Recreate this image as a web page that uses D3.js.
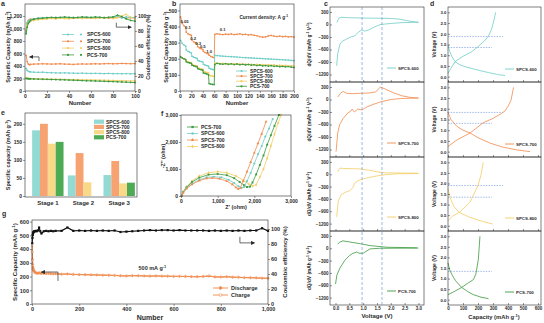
<!DOCTYPE html>
<html>
<head>
<meta charset="utf-8">
<script src="https://cdn.jsdelivr.net/npm/d3@7"></script>
<style>
  body { margin: 0; background: #fff; }
  svg { font-family: "Liberation Sans", Arial, sans-serif; font-weight: bold; }
</style>
</head>
<body>
<svg id="fig" width="544" height="323"></svg>
<script>
// ---- colours ----
const INK = "#2b2b2b";
const cyanC = "#6ecdc6", orangeC = "#f08a4b", yellowC = "#f2cd62", greenC = "#3b9a3e";
const barColors = ["#93d9d4", "#f6a371", "#f8d98a", "#4daa55"];

// ---- (a) cycling at low rate ----
const aCycles = [1,2,3,4,5,8,12,16,20,24,28,32,36,40,44,48,52,56,60,64,68,72,76,80,84,88,92,96,100];
const aCap600 = [360,330,315,310,305,300,298,300,295,292,290,288,290,287,285,283,285,282,280,282,280,278,280,277,278,276,278,275,277];
const aCap700 = [570,470,430,420,425,430,432,435,433,430,432,435,430,428,425,430,432,430,433,435,432,436,438,435,437,440,438,436,438];
const aCap800 = [215,205,200,198,197,195,193,192,190,189,188,186,185,183,182,180,179,178,176,175,174,172,170,168,166,165,163,162,160];
const aCapP700 = [200,198,196,195,194,192,190,188,186,184,182,180,178,175,172,170,167,164,162,160,157,155,152,150,147,144,141,138,135];
const aCE600 = [78,90,93,94,95,96,97,97,97.5,97,98,97.5,98,97.5,98,97,98,98.5,97.5,98,98,97.5,98,98.5,99,97,98.5,98,97.5];
const aCE700 = [80,91,94,95,95.5,96,96.5,97,97,97.5,97,97.5,97,97.5,97,97.5,98,97.5,97,97.5,98,97.5,97,97.5,98,98.5,97,97.5,98];
const aCE800 = [83,87,90,92,93,94,95,95.5,96,96.5,96,97,96.5,96,97,97.5,96.5,97,97.5,96.5,97,97.5,98,96.5,97.5,100,102,98,96];
const aCEP700 = [76,85,90,92,94,95.5,96.5,97,97.5,98,97.5,98,98.5,98,97.5,98,98.5,98,98,98.5,98,97.5,98,98.5,101,99,96,94,93];

// ---- (b) rate test ----
const bCycles = [1,4,7,10,11,14,17,20,21,24,27,30,31,34,37,40,41,44,47,50,51,54,57,60,
  61,65,70,75,80,85,90,95,100,105,110,115,120,125,130,135,140,145,150,155,160,165,170,175,180,185,190,195,200];
const b600 = [315,295,285,278,255,246,241,236,215,210,206,203,190,186,183,180,166,161,158,155,142,137,134,131,
  222,220,218,216,215,214,213,212,211,209,208,207,206,205,204,203,202,201,200,199,198,197,196,195,194,193,192,190,188];
const b700 = [460,420,405,395,365,355,350,346,316,305,300,296,276,268,263,258,246,239,234,230,222,215,210,206,
  352,355,352,350,353,351,354,350,352,355,350,352,348,350,346,343,338,334,336,342,345,340,338,341,337,339,336,338,335];
const b800 = [215,205,200,196,186,181,178,176,165,160,158,156,145,140,138,135,123,118,115,112,98,94,92,90,
  174,172,170,171,168,170,167,169,166,168,165,167,164,166,163,165,162,164,161,163,160,162,158,160,157,159,155,157,154];
const bP700 = [212,205,200,195,181,177,174,172,160,156,153,150,139,135,132,130,112,109,106,100,46,43,41,40,
  165,172,168,166,170,165,169,164,168,163,166,162,165,160,163,158,161,156,158,155,157,153,155,151,153,150,152,148,146];
// rate labels: [text, cycle, capacity]
const bRates = [["0.05",8,425],["0.1",14,382],["0.2",23,318],["0.3",32,288],["0.5",40,268],["1.0",51,238],["0.1",75,372]];

// ---- (c) dQ/dV profiles, [voltage, dQ/dV] ----
const c600Charge = [[0.05,50],[0.12,150],[0.2,175],[0.4,165],[0.7,160],[1.0,155],[1.3,152],[1.6,150],[2.0,145],[2.3,130],[2.6,90],[2.9,60],[3.0,55]];
const c600Dis = [[0.04,-990],[0.08,-700],[0.16,-470],[0.25,-400],[0.4,-350],[0.55,-300],[0.7,-270],[0.8,-200],[0.9,-150],[0.96,-130],[1.05,-160],[1.2,-130],[1.4,-60],[1.62,0],[2.0,25],[2.4,45],[3.0,55]];
const c700Charge = [[0.08,60],[0.18,150],[0.28,195],[0.4,150],[0.6,140],[0.9,150],[1.2,155],[1.45,180],[1.62,300],[1.8,250],[2.1,160],[2.4,90],[2.7,50],[3.0,35]];
const c700Dis = [[0.02,-1250],[0.08,-800],[0.15,-600],[0.28,-450],[0.45,-320],[0.55,-280],[0.6,-230],[0.68,-300],[0.8,-230],[0.96,-250],[1.1,-190],[1.35,-120],[1.62,-60],[2.0,0],[2.4,25],[3.0,35]];
const c800Charge = [[0.08,60],[0.16,150],[0.3,140],[0.6,135],[0.9,130],[1.2,100],[1.5,60],[1.8,35],[2.4,30],[3.0,25]];
const c800Dis = [[0.04,-1035],[0.1,-650],[0.2,-500],[0.35,-440],[0.52,-400],[0.62,-330],[0.7,-210],[0.8,-160],[0.89,-140],[1.0,-110],[1.2,-80],[1.5,-40],[1.8,-10],[2.2,10],[3.0,20]];
const cP700Charge = [[0.08,100],[0.15,150],[0.27,180],[0.45,160],[0.63,140],[0.9,110],[1.25,65],[1.86,25],[2.95,10]];
const cP700Dis = [[0.0,-870],[0.05,-650],[0.16,-480],[0.34,-290],[0.5,-180],[0.63,-120],[0.7,-110],[0.77,-90],[0.85,-120],[1.0,-120],[1.25,-15],[1.6,0],[3.0,5]];
const cPeaks = [0.96, 1.68];

// ---- (d) charge/discharge profiles, [capacity, voltage] ----
const d600Charge = [[0,0.15],[20,0.4],[47,0.7],[100,0.95],[158,1.16],[200,1.4],[240,1.65],[267,1.86],[290,2.2],[305,2.6],[318,3.0]];
const d600Dis = [[0,1.48],[10,1.2],[25,0.95],[47,0.7],[80,0.55],[120,0.45],[160,0.38],[220,0.27],[270,0.19],[330,0.1],[380,0.05]];
const d700Charge = [[0,0.24],[60,0.55],[147,0.87],[235,1.35],[300,1.55],[347,1.74],[380,1.9],[402,2.14],[420,2.4],[437,3.0]];
const d700Dis = [[0,1.83],[20,1.5],[58,1.19],[100,1.0],[147,0.87],[200,0.65],[280,0.4],[360,0.22],[460,0.08],[547,0.0]];
const d800Charge = [[0,0.24],[30,0.45],[75,0.63],[145,1.1],[200,1.9],[220,2.4],[235,3.0]];
const d800Dis = [[0,1.74],[15,1.3],[40,0.9],[75,0.63],[145,0.4],[235,0.19],[298,0.08]];
const dP700Charge = [[0,0.24],[45,0.4],[91,0.58],[130,0.77],[169,0.95],[185,1.2],[191,1.42],[202,1.9],[207,2.37],[213,3.0]];
const dP700Dis = [[0,1.74],[12,1.4],[25,1.2],[50,0.9],[91,0.58],[140,0.35],[169,0.24],[220,0.12],[270,0.05]];
// plateau guides: [voltage, capacity reached]
const d600Guides = [[1.87,367],[1.36,293]];
const d700Guides = [[1.83,367],[1.32,293]];
const d800Guides = [[1.9,367],[1.35,293]];
const dP700Guides = [[1.34,293]];

// ---- (e) capacity by stage ----
const stages = ["Stage 1", "Stage 2", "Stage 3"];
const eNames = ["SPCS-600", "SPCS-700", "SPCS-800", "PCS-700"];
const e600 = [182, 57, 58];
const e700 = [200, 119, 97];
const e800 = [145, 38, 35];
const eP700 = [150, 0, 37];

// ---- (f) Nyquist plots, [Z', -Z''] ----
const fP700 = [[20,0],[60,150],[150,320],[300,520],[500,680],[750,790],[1000,815],[1250,770],[1450,660],[1600,520],[1720,400],[1800,335],[1880,345],[1950,500],[2050,800],[2150,1150],[2250,1500],[2350,1900],[2450,2250],[2550,2600],[2670,3000]];
const f600 = [[20,0],[60,130],[150,290],[300,460],[500,600],[700,690],[900,715],[1100,690],[1300,600],[1450,480],[1570,360],[1650,295],[1720,330],[1800,550],[1900,850],[2000,1200],[2100,1550],[2200,1850],[2300,2200],[2400,2500],[2500,2850]];
const f700 = [[20,0],[60,120],[150,270],[300,430],[500,570],[700,650],[850,667],[1050,640],[1250,550],[1400,430],[1500,320],[1560,262],[1620,300],[1700,560],[1800,900],[1900,1250],[2000,1600],[2100,1950],[2200,2300],[2318,2750]];
const f800 = [[20,0],[60,160],[150,340],[300,560],[500,740],[750,860],[1000,900],[1250,860],[1500,740],[1700,580],[1850,440],[1960,372],[2050,420],[2150,700],[2250,1000],[2350,1400],[2450,1850],[2550,2300],[2650,2700],[2727,3000]];

// ---- (g) long cycling at 500 mA/g ----
const gCycles = [1,2,3,4,5,6,8,10,13,16,20,25,30,35,40,50,60,70,80,90,100,
  125,150,175,200,225,250,275,300,325,350,375,400,425,450,475,500,525,550,575,600,
  625,650,675,700,725,750,775,800,825,850,875,900,925,950,975,1000];
const gDischarge = [420,330,290,270,258,250,242,236,231,228,226,224,226,224,222,223,221,222,220,219,220,
  217,218,215,214,213,212,211,210,209,208,205,204,206,205,204,203,204,203,202,201,201,200,199,198,200,203,197,196,198,195,194,192,191,190,188,187];
const gCharge = [380,320,285,266,256,249,241,235,230,227,225,223,228,226,223,224,222,223,221,220,221,
  218,219,216,215,214,213,212,211,210,209,206,205,207,206,205,204,205,204,203,202,202,201,200,199,201,205,198,197,199,196,195,193,192,191,189,188];
const gCE = [81,88,92,94,95,96,96.5,97,97,97.5,97,98,102,97,94,97,97.5,97,97.5,97,97.5,
  97.5,102,97.5,98,97.5,98,97.5,98,97.5,98,96,96.5,97,97.5,98,98.5,98,98.5,98.5,98,98.5,98,98,98,98,97.5,98,97.5,98,97.5,98,97.5,98,98,101,97.5];

// ---------------------------------------------------------------
const svg = d3.select("#fig");

svg.append("defs").append("marker")
  .attr("id", "head").attr("viewBox", "0 0 6 6").attr("refX", 5).attr("refY", 3)
  .attr("markerWidth", 6).attr("markerHeight", 6).attr("orient", "auto")
  .append("path").attr("d", "M0,0L6,3L0,6Z").attr("fill", INK);

// text with ^-1 style superscripts
function rich(t, s) {
  s.split(/\^([-\d]+)/).forEach((p, i) => {
    if (!p) return;
    const ts = t.append("tspan").text(p);
    if (i % 2) ts.attr("baseline-shift", "super").attr("font-size", "70%");
  });
}

function label(str, x, y, opt = {}) {
  const t = svg.append("text").attr("x", x).attr("y", y)
    .attr("font-size", opt.size || 6)
    .attr("text-anchor", opt.anchor || "middle")
    .attr("fill", opt.color || INK);
  if (opt.rotate) t.attr("transform", `rotate(${opt.rotate},${x},${y})`);
  rich(t, str);
  return t;
}

function frame(x, y) {
  const [x0, x1] = x.range(), [y0, y1] = y.range();
  svg.append("rect")
    .attr("x", x0).attr("y", Math.min(y0, y1))
    .attr("width", x1 - x0).attr("height", Math.abs(y0 - y1))
    .attr("fill", "none").attr("stroke", INK).attr("stroke-width", 0.6);
}

function axis(gen, dx, dy, size = 5, labels = true) {
  const g = svg.append("g").attr("transform", `translate(${dx},${dy})`).call(gen);
  g.attr("font-family", null).attr("font-size", size);
  g.select(".domain").remove();
  g.selectAll(".tick line").attr("stroke", INK).attr("stroke-width", 0.5);
  g.selectAll(".tick text").attr("fill", INK);
  if (!labels) g.selectAll(".tick text").remove();
  return g;
}

function curve(pts, x, y, color, w = 0.8, dash = null) {
  svg.append("path").datum(pts)
    .attr("fill", "none").attr("stroke", color).attr("stroke-width", w)
    .attr("stroke-linejoin", "round").attr("stroke-dasharray", dash)
    .attr("d", d3.line().x(d => x(d[0])).y(d => y(d[1])));
}

function dots(pts, x, y, color, r = 0.9, open = false) {
  svg.append("g").selectAll("circle").data(pts).join("circle")
    .attr("cx", d => x(d[0])).attr("cy", d => y(d[1])).attr("r", r)
    .attr("fill", open ? "#fff" : color)
    .attr("stroke", open ? color : "none").attr("stroke-width", 0.5);
}

function arrow(pts, x, y) {
  svg.append("path").datum(pts)
    .attr("fill", "none").attr("stroke", INK).attr("stroke-width", 0.7)
    .attr("marker-end", "url(#head)")
    .attr("d", d3.line().x(d => x(d[0])).y(d => y(d[1])));
}

function panelLetter(s, x, y) {
  svg.append("text").attr("x", x).attr("y", y).attr("font-size", 7).attr("fill", INK).text(s);
}

// ================= (a) =================
{
  const x = d3.scaleLinear().domain([0, 100]).range([25, 135]);
  const yL = d3.scaleLinear().domain([0, 1390]).range([91, 4]);
  const yR = d3.scaleLinear().domain([0, 115.8]).range([91, 4]);

  const cap = [[aCap700, orangeC], [aCap600, cyanC], [aCap800, yellowC], [aCapP700, greenC]];
  const ce = [[aCE700, orangeC], [aCE600, cyanC], [aCE800, yellowC], [aCEP700, greenC]];
  cap.forEach(([v, c]) => {
    const pts = d3.zip(aCycles, v);
    curve(pts, x, yL, c, 0.9);
    dots(pts, x, yL, c, 0.9);
  });
  ce.forEach(([v, c]) => {
    const pts = d3.zip(aCycles, v);
    curve(pts, x, yR, c, 0.9);
    dots(pts, x, yR, c, 0.9);
  });

  frame(x, yL);
  axis(d3.axisBottom(x).tickValues([0, 20, 40, 60, 80, 100]).tickSize(2).tickPadding(1), 0, 91);
  axis(d3.axisLeft(yL).tickValues([0, 200, 400, 600, 800, 1000, 1200]).tickSize(2).tickPadding(1), 25, 0);
  axis(d3.axisRight(yR).tickValues([0, 20, 40, 60, 80, 100]).tickSize(2).tickPadding(1), 135, 0);

  label("Number", 80, 104.5, { size: 6 });
  label("Specific Capacity (mAh g^-1)", 9.5, 47, { rotate: -90, size: 5.5 });
  label("Coulombic efficiency (%)", 150, 47, { rotate: -90, size: 5.5 });

  arrow([[12.7, 478], [12.7, 545], [4.3, 545]], x, yL);
  arrow([[83, 91], [83, 85], [96.5, 85]], x, yR);

  const names = ["SPCS-600", "SPCS-700", "SPCS-800", "PCS-700"];
  const cols = [cyanC, orangeC, yellowC, greenC];
  names.forEach((n, i) => {
    const ly = 34.5 + i * 6.8;
    svg.append("line").attr("x1", 62).attr("x2", 74).attr("y1", ly).attr("y2", ly)
      .attr("stroke", cols[i]).attr("stroke-width", 0.8);
    svg.append("circle").attr("cx", 68).attr("cy", ly).attr("r", 1.1).attr("fill", cols[i]);
    svg.append("circle").attr("cx", 81).attr("cy", ly).attr("r", 1.1).attr("fill", cols[i]);
    label(n, 87, ly + 1.8, { size: 5, anchor: "start" });
  });
  panelLetter("a", 1, 6);
}

// ================= (b) =================
{
  const x = d3.scaleLinear().domain([0, 200]).range([180, 294]);
  const y = d3.scaleLinear().domain([0, 540]).range([91, 4]);
  const set = [[b700, orangeC], [b600, cyanC], [b800, yellowC], [bP700, greenC]];
  set.forEach(([v, c]) => {
    const pts = d3.zip(bCycles, v);
    curve(pts, x, y, c, 0.9);
    dots(pts, x, y, c, 0.85);
  });

  frame(x, y);
  axis(d3.axisBottom(x).tickValues(d3.range(0, 201, 20)).tickSize(2).tickPadding(1), 0, 91);
  axis(d3.axisLeft(y).tickValues([0, 100, 200, 300, 400, 500]).tickSize(2).tickPadding(1), 180, 0);

  label("Number", 237, 104.5, { size: 6 });
  label("Specific Capacity (mAh g^-1)", 168, 47, { rotate: -90, size: 5.5 });
  label("Current density: A g^-1", x(147), y(447), { size: 4.8 });
  bRates.forEach(([t, cyc, v]) => label(t, x(cyc), y(v), { size: 4.2 }));

  const names = ["SPCS-600", "SPCS-700", "SPCS-800", "PCS-700"];
  const cols = [cyanC, orangeC, yellowC, greenC];
  names.forEach((n, i) => {
    const ly = 71 + i * 5.1;
    svg.append("line").attr("x1", 236).attr("x2", 247).attr("y1", ly).attr("y2", ly)
      .attr("stroke", cols[i]).attr("stroke-width", 0.8);
    svg.append("circle").attr("cx", 241.5).attr("cy", ly).attr("r", 1.1).attr("fill", cols[i]);
    label(n, 250, ly + 1.8, { size: 4.8, anchor: "start" });
  });
  panelLetter("b", 172, 6);
}

// ================= (c) and (d) =================
{
  const edges = [7, 82, 157, 231, 305];
  const cPanels = [
    { name: "SPCS-600", color: cyanC, charge: c600Charge, dis: c600Dis },
    { name: "SPCS-700", color: orangeC, charge: c700Charge, dis: c700Dis },
    { name: "SPCS-800", color: yellowC, charge: c800Charge, dis: c800Dis },
    { name: "PCS-700", color: greenC, charge: cP700Charge, dis: cP700Dis }
  ];
  const dPanels = [
    { name: "SPCS-600", color: cyanC, charge: d600Charge, dis: d600Dis, guides: d600Guides },
    { name: "SPCS-700", color: orangeC, charge: d700Charge, dis: d700Dis, guides: d700Guides },
    { name: "SPCS-800", color: yellowC, charge: d800Charge, dis: d800Dis, guides: d800Guides },
    { name: "PCS-700", color: greenC, charge: dP700Charge, dis: dP700Dis, guides: dP700Guides }
  ];

  const cx = d3.scaleLinear().domain([-0.2, 3.2]).range([330, 424]);
  const dx = d3.scaleLinear().domain([0, 620]).range([448, 541]);

  cPanels.forEach((p, i) => {
    const top = edges[i], bot = edges[i + 1];
    const cy = d3.scaleLinear().domain([-1380, 420]).range([bot, top]);
    curve(p.dis, cx, cy, p.color, 0.8);
    curve(p.charge, cx, cy, p.color, 0.8);
    frame(cx, cy);
    axis(d3.axisLeft(cy).tickValues([300, 0, -300, -600, -900, -1200]).tickSize(-2).tickPadding(1.5)
      .tickFormat(d3.format("d")), 330, 0, 4.5);
    axis(d3.axisBottom(cx).tickValues([0, 0.5, 1, 1.5, 2, 2.5, 3]).tickSize(-2).tickPadding(1.5)
      .tickFormat(d3.format(".1f")), 0, bot, 4.5, i === 3);
    label("dQ/dV (mAh g^-1 V^-1)", 311, (top + bot) / 2, { rotate: -90, size: 4.8 });
    const ly = bot - 14;
    svg.append("line").attr("x1", 387).attr("x2", 396).attr("y1", ly).attr("y2", ly)
      .attr("stroke", p.color).attr("stroke-width", 0.9);
    label(p.name, 398, ly + 1.6, { size: 4.4, anchor: "start" });
  });
  // reference lines through all four dQ/dV panels
  cPeaks.forEach(v => {
    svg.append("line").attr("x1", cx(v)).attr("x2", cx(v)).attr("y1", edges[0]).attr("y2", edges[4])
      .attr("stroke", "#5a8ad0").attr("stroke-width", 0.6).attr("stroke-dasharray", "3,2");
  });
  label("Voltage (V)", 377, 318, { size: 6 });
  panelLetter("c", 324, 6);

  dPanels.forEach((p, i) => {
    const top = edges[i], bot = edges[i + 1];
    const dy = d3.scaleLinear().domain([-0.25, 3.25]).range([bot, top]);
    p.guides.forEach(([v, c]) => curve([[0, v], [c, v]], dx, dy, "#7d9ee0", 0.7, "1.5,1.2"));
    curve(p.charge, dx, dy, p.color, 0.8);
    curve(p.dis, dx, dy, p.color, 0.8);
    frame(dx, dy);
    axis(d3.axisLeft(dy).tickValues([0, 0.5, 1, 1.5, 2, 2.5, 3]).tickSize(-2).tickPadding(1.5)
      .tickFormat(d3.format(".1f")), 448, 0, 4.3);
    axis(d3.axisBottom(dx).tickValues([0, 100, 200, 300, 400, 500, 600]).tickSize(-2).tickPadding(1.5),
      0, bot, 4.5, i === 3);
    label("Voltage (V)", 436, (top + bot) / 2, { rotate: -90, size: 5 });
    const ly = bot - 13;
    svg.append("line").attr("x1", 505).attr("x2", 514).attr("y1", ly).attr("y2", ly)
      .attr("stroke", p.color).attr("stroke-width", 0.9);
    label(p.name, 516, ly + 1.6, { size: 4.4, anchor: "start" });
  });
  label("Capacity (mAh g^-1)", 494, 318.5, { size: 5.8 });
  panelLetter("d", 430, 6);
}

// ================= (e) =================
{
  const x = d3.scaleBand().domain(stages).range([30, 137]).paddingInner(0.12).paddingOuter(0.06);
  const sub = d3.scaleBand().domain(eNames).range([0, x.bandwidth()]);
  const y = d3.scaleLinear().domain([0, 230]).range([196, 113]);
  const vals = [e600, e700, e800, eP700];
  const rows = [];
  stages.forEach((s, si) => eNames.forEach((n, ni) => rows.push({ s, n, ni, v: vals[ni][si] })));
  svg.append("g").selectAll("rect").data(rows.filter(d => d.v > 0)).join("rect")
    .attr("x", d => x(d.s) + sub(d.n))
    .attr("y", d => y(d.v))
    .attr("width", sub.bandwidth())
    .attr("height", d => y(0) - y(d.v))
    .attr("fill", d => barColors[d.ni]);

  svg.append("rect").attr("x", 25).attr("y", 113).attr("width", 112).attr("height", 84)
    .attr("fill", "none").attr("stroke", INK).attr("stroke-width", 0.6);
  axis(d3.axisLeft(y).tickValues([0, 50, 100, 150, 200]).tickSize(2).tickPadding(1), 25, 0);
  axis(d3.axisBottom(x).tickSize(0).tickPadding(4), 0, 197, 6);

  label("Specific capacity (mAh g^-1)", 9.5, 155, { rotate: -90, size: 5.5 });

  eNames.forEach((n, i) => {
    const ly = 121.7 + i * 5.2;
    svg.append("rect").attr("x", 94).attr("y", ly - 2.1).attr("width", 10).attr("height", 4.2)
      .attr("fill", barColors[i]);
    label(n, 106, ly + 1.8, { size: 5, anchor: "start" });
  });
  panelLetter("e", 1, 115);
}

// ================= (f) =================
{
  const x = d3.scaleLinear().domain([0, 3000]).range([181, 291]);
  const y = d3.scaleLinear().domain([0, 3000]).range([196, 115]);
  const set = [
    { name: "PCS-700", pts: fP700, color: greenC, sym: d3.symbolSquare },
    { name: "SPCS-600", pts: f600, color: cyanC, sym: d3.symbolCircle },
    { name: "SPCS-700", pts: f700, color: orangeC, sym: d3.symbolTriangle },
    { name: "SPCS-800", pts: f800, color: yellowC, sym: d3.symbolDiamond }
  ];
  [set[3], set[0], set[1], set[2]].forEach(s => {
    curve(s.pts, x, y, s.color, 0.8);
    svg.append("g").selectAll("path").data(s.pts).join("path")
      .attr("transform", d => `translate(${x(d[0])},${y(d[1])})`)
      .attr("d", d3.symbol(s.sym, 3.5)).attr("fill", s.color);
  });
  frame(x, y);
  axis(d3.axisBottom(x).tickValues([0, 1000, 2000, 3000]).tickSize(2).tickPadding(1), 0, 196);
  axis(d3.axisLeft(y).tickValues([0, 1000, 2000, 3000]).tickSize(2).tickPadding(1), 181, 0);
  label("Z' (ohm)", 236, 209, { size: 5.5 });
  label("-Z'' (ohm)", 165, 156, { rotate: -90, size: 5.5 });

  set.forEach((s, i) => {
    const ly = 127 + i * 6.5;
    svg.append("line").attr("x1", 187).attr("x2", 198).attr("y1", ly).attr("y2", ly)
      .attr("stroke", s.color).attr("stroke-width", 0.8);
    svg.append("path").attr("transform", `translate(192.5,${ly})`)
      .attr("d", d3.symbol(s.sym, 5)).attr("fill", s.color);
    label(s.name, 201, ly + 1.8, { size: 5, anchor: "start" });
  });
  panelLetter("f", 161, 116);
}

// ================= (g) =================
{
  const x = d3.scaleLinear().domain([0, 1000]).range([32, 268]);
  const yL = d3.scaleLinear().domain([0, 612]).range([304, 220]);
  const yR = d3.scaleLinear().domain([0, 112]).range([304, 220]);

  const ce = d3.zip(gCycles, gCE);
  curve(ce, x, yR, "#111", 1.2);
  svg.append("g").selectAll("rect").data(ce).join("rect")
    .attr("x", d => x(d[0]) - 1.1).attr("y", d => yR(d[1]) - 1.1)
    .attr("width", 2.2).attr("height", 2.2).attr("fill", "#111");

  const dis = d3.zip(gCycles, gDischarge), cha = d3.zip(gCycles, gCharge);
  curve(cha, x, yL, orangeC, 1);
  curve(dis, x, yL, orangeC, 1);
  dots(cha, x, yL, orangeC, 1.2, true);
  dots(dis, x, yL, orangeC, 1);

  frame(x, yL);
  axis(d3.axisBottom(x).tickValues([0, 200, 400, 600, 800, 1000]).tickSize(2).tickPadding(1), 0, 304, 5.5);
  axis(d3.axisLeft(yL).tickValues([0, 100, 200, 300, 400, 500, 600]).tickSize(2).tickPadding(1), 32, 0, 5.5);
  axis(d3.axisRight(yR).tickValues([0, 20, 40, 60, 80, 100]).tickSize(2).tickPadding(1), 268, 0, 5.5);

  label("Number", 150, 320, { size: 7 });
  label("Specific Capacity (mAh g^-1)", 17, 262, { rotate: -90, size: 6 });
  label("Coulombic efficiency (%)", 287, 262, { rotate: -90, size: 6 });
  label("500 mA g^-1", x(510), yL(245), { size: 5.5 });

  arrow([[110, 168], [110, 233], [40, 233]], x, yL);
  arrow([[881, 89.5], [881, 81.5], [942, 81.5]], x, yR);

  [["Discharge", false], ["Charge", true]].forEach(([n, open], i) => {
    const ly = 288 + i * 7;
    svg.append("line").attr("x1", 213).attr("x2", 228).attr("y1", ly).attr("y2", ly)
      .attr("stroke", orangeC).attr("stroke-width", 0.9);
    svg.append("circle").attr("cx", 220.5).attr("cy", ly).attr("r", 1.4)
      .attr("fill", open ? "#fff" : orangeC).attr("stroke", orangeC).attr("stroke-width", 0.6);
    label(n, 231, ly + 2, { size: 5.5, anchor: "start" });
  });
  panelLetter("g", 2, 216);
}
</script>
</body>
</html>
